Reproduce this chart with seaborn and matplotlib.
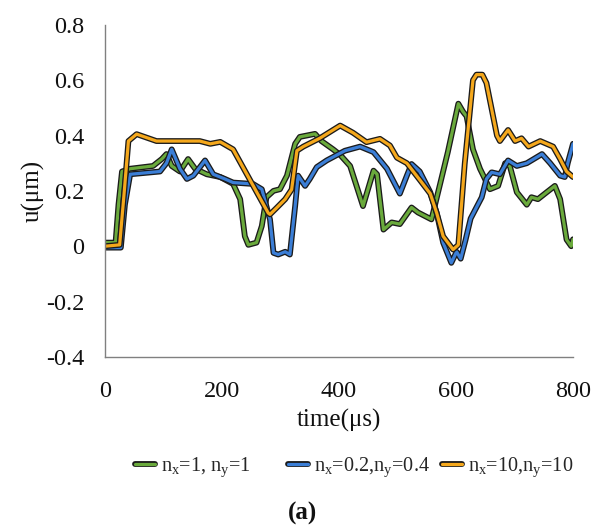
import numpy as np
import pandas as pd
import matplotlib
matplotlib.use("Agg")
import matplotlib.pyplot as plt
import matplotlib.patheffects as pe
from matplotlib.lines import Line2D
from matplotlib.ticker import FixedLocator, FuncFormatter
import seaborn as sns

# ---- data: displacement u (µm) vs time (µs) ----
t_green = [0, 18, 23, 29, 43, 82, 97, 105, 114, 128, 142, 154, 174, 197, 219, 231,
           239, 245, 259, 268, 276, 288, 299, 311, 325, 333, 359, 370, 390, 402,
           419, 441, 459, 465, 476, 490, 504, 524, 535, 558, 561, 586, 604, 612,
           618, 629, 641, 658, 672, 684, 692, 704, 721, 729, 740, 755, 769, 778,
           789, 797, 800]
u_green = [0.013, 0.013, 0.15, 0.27, 0.28, 0.29, 0.315, 0.333, 0.29, 0.27, 0.315,
           0.28, 0.26, 0.25, 0.225, 0.17, 0.036, 0.005, 0.013, 0.073, 0.177, 0.2,
           0.206, 0.255, 0.37, 0.395, 0.406, 0.38, 0.35, 0.33, 0.29, 0.145, 0.273,
           0.26, 0.06, 0.086, 0.08, 0.14, 0.122, 0.097, 0.122, 0.34, 0.515, 0.486,
           0.47, 0.35, 0.28, 0.206, 0.218, 0.30, 0.29, 0.195, 0.15, 0.177, 0.17,
           0.195, 0.218, 0.17, 0.024, 0.0, 0.025]

t_blue = [0, 27, 34, 43, 94, 105, 114, 128, 140, 151, 171, 185, 205, 219, 253, 268,
          282, 288, 296, 308, 316, 325, 330, 342, 350, 362, 379, 410, 436, 459,
          482, 504, 516, 524, 538, 556, 567, 578, 592, 601, 608, 616, 625, 644,
          652, 661, 675, 689, 704, 721, 747, 761, 778, 786, 791, 800]
u_blue = [-0.005, -0.005, 0.15, 0.26, 0.27, 0.30, 0.35, 0.28, 0.243, 0.255, 0.31,
          0.26, 0.243, 0.23, 0.225, 0.206, 0.097, -0.024, -0.03, -0.02, -0.03,
          0.145, 0.255, 0.218, 0.243, 0.286, 0.31, 0.345, 0.36, 0.34, 0.28, 0.19,
          0.255, 0.297, 0.27, 0.195, 0.12, 0.013, -0.06, -0.02, -0.045, 0.02,
          0.10, 0.177, 0.243, 0.267, 0.26, 0.31, 0.29, 0.30, 0.333, 0.30, 0.255,
          0.25, 0.30, 0.37]

t_orange = [0, 25, 33, 40, 54, 88, 162, 180, 197, 219, 279, 282, 294, 308, 319,
            328, 339, 367, 402, 424, 447, 470, 487, 499, 516, 538, 556, 567, 578,
            595, 604, 615, 629, 635, 645, 652, 670, 675, 689, 701, 712, 724, 744,
            766, 778, 789, 800]
u_orange = [0.0, 0.005, 0.2, 0.38, 0.405, 0.38, 0.38, 0.37, 0.377, 0.35, 0.12,
            0.115, 0.14, 0.17, 0.205, 0.345, 0.36, 0.39, 0.436, 0.41, 0.376, 0.388,
            0.364, 0.32, 0.30, 0.24, 0.19, 0.12, 0.036, -0.012, 0.005, 0.30, 0.60,
            0.62, 0.62, 0.59, 0.40, 0.38, 0.42, 0.38, 0.39, 0.36, 0.38, 0.36, 0.315,
            0.27, 0.25]

labels = [r"n$_{\mathrm{x}}$=1, n$_{\mathrm{y}}$=1",
          r"n$_{\mathrm{x}}$=0.2,n$_{\mathrm{y}}$=0.4",
          r"n$_{\mathrm{x}}$=10,n$_{\mathrm{y}}$=10"]
colors = ["#6aaa3c", "#3b7ed6", "#f5a81c"]

x_ticks = [0, 200, 400, 600, 800]
y_ticks = [-0.4, -0.2, 0, 0.2, 0.4, 0.6, 0.8]

df = pd.concat([
    pd.DataFrame({"time": t_green, "u": u_green, "case": labels[0]}),
    pd.DataFrame({"time": t_blue, "u": u_blue, "case": labels[1]}),
    pd.DataFrame({"time": t_orange, "u": u_orange, "case": labels[2]}),
], ignore_index=True)

# ---- style ----
sns.set_theme(style="white")
plt.rcParams["font.family"] = ["Liberation Serif", "DejaVu Serif"]
plt.rcParams["mathtext.fontset"] = "custom"
plt.rcParams["mathtext.rm"] = "Liberation Serif"
plt.rcParams["mathtext.it"] = "Liberation Serif:italic"

TXT = "#111111"
fig = plt.figure(figsize=(6.05, 5.28), dpi=100)
ax = fig.add_axes([0.1736, 0.324, 0.7735, 0.629])

outline = [pe.Stroke(linewidth=4.2, foreground="#1b1b1b"), pe.Normal()]

sns.lineplot(data=df, x="time", y="u", hue="case", hue_order=labels,
             palette=colors, sort=False, estimator=None, linewidth=2.3,
             legend=False, ax=ax)
for line in ax.get_lines():
    line.set_path_effects(outline)
    line.set_solid_joinstyle("round")
    line.set_solid_capstyle("round")

ax.set_xlim(0, 800)
ax.set_ylim(-0.4, 0.8)
ax.xaxis.set_major_locator(FixedLocator(x_ticks))
ax.yaxis.set_major_locator(FixedLocator(y_ticks))
ax.yaxis.set_major_formatter(FuncFormatter(lambda v, p: f"{v:g}" if abs(v) > 1e-9 else "0"))
ax.tick_params(axis="both", length=0, labelsize=17.5, colors=TXT)
ax.tick_params(axis="y", pad=15)
ax.tick_params(axis="x", pad=17)

for s in ["top", "right"]:
    ax.spines[s].set_visible(False)
for s in ["left", "bottom"]:
    ax.spines[s].set_color("#808080")
    ax.spines[s].set_linewidth(1.0)

ax.set_xlabel("time(μs)", fontsize=18, labelpad=5, color=TXT)
ax.set_ylabel("u(μm)", fontsize=18, labelpad=1, color=TXT)

# one legend entry per column, placed like fixed-width legend slots
leg_x = [135 / 605, 288 / 605, 442 / 605]
for c, lab, x0 in zip(colors, labels, leg_x):
    h = Line2D([0], [0], color=c, linewidth=2.3, solid_capstyle="round",
               path_effects=outline)
    fig.legend([h], [lab], loc="center left", bbox_to_anchor=(x0, 1 - 467 / 528),
               frameon=False, fontsize=14.6, handlelength=1.0,
               handletextpad=0.3, borderpad=0, borderaxespad=0)

fig.text(0.5, 1 - 513 / 528, "(a)", ha="center", va="center", fontsize=18,
         fontweight="bold", color=TXT)

fig.savefig("out.png", dpi=100, facecolor="white")
